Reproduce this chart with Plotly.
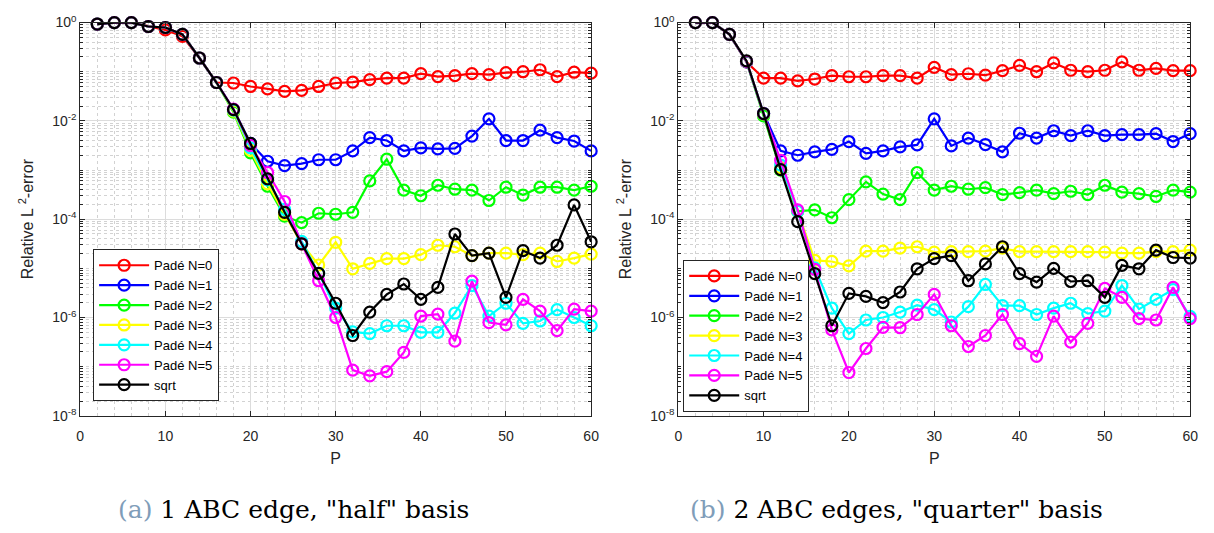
import plotly.graph_objects as go

P = list(range(2, 61, 2))

# ---------- (a) 1 ABC edge, "half" basis ----------
a_N0 = [0.933, 1.0, 1.0, 0.832, 0.708, 0.525, 0.19, 0.0603, 0.0589, 0.0501, 0.0447, 0.0398, 0.0417, 0.0501, 0.0589,
        0.0617, 0.0692, 0.0741, 0.0741, 0.0912, 0.0794, 0.0832, 0.0912, 0.0871, 0.0955, 0.1, 0.1096, 0.0794, 0.0977, 0.0933]
a_N1 = [0.933, 1.0, 1.0, 0.832, 0.794, 0.575, 0.19, 0.0603, 0.017, 3.47e-3, 1.51e-3, 1.23e-3, 1.35e-3, 1.62e-3, 1.62e-3,
        2.45e-3, 4.57e-3, 3.98e-3, 2.45e-3, 2.82e-3, 2.69e-3, 2.75e-3, 4.9e-3, 1.1e-2, 3.98e-3, 3.98e-3, 6.46e-3, 4.57e-3, 3.89e-3, 2.45e-3]
a_N2 = [0.933, 1.0, 1.0, 0.832, 0.794, 0.575, 0.19, 0.0603, 1.51e-2, 2.24e-3, 4.68e-4, 1.15e-4, 8.5e-5, 1.32e-4, 1.26e-4,
        1.38e-4, 6.0e-4, 1.66e-3, 3.9e-4, 3.0e-4, 4.9e-4, 4.07e-4, 3.9e-4, 2.4e-4, 4.47e-4, 3.09e-4, 4.47e-4, 4.47e-4, 3.9e-4, 4.68e-4]
a_N3 = [0.933, 1.0, 1.0, 0.832, 0.794, 0.575, 0.19, 0.0603, 1.58e-2, 2.51e-3, 5.25e-4, 1.26e-4, 3.16e-5, 1.17e-5, 3.39e-5,
        9.8e-6, 1.26e-5, 1.58e-5, 1.58e-5, 1.9e-5, 2.95e-5, 2.75e-5, 1.82e-5, 2.04e-5, 2.04e-5, 1.9e-5, 2.04e-5, 1.38e-5, 1.62e-5, 1.95e-5]
a_N4 = [0.933, 1.0, 1.0, 0.832, 0.794, 0.575, 0.19, 0.0603, 1.66e-2, 2.82e-3, 6.3e-4, 1.58e-4, 3.55e-5, 7.9e-6, 1.55e-6,
        5.1e-7, 4.7e-7, 6.8e-7, 6.8e-7, 5.0e-7, 5.0e-7, 1.23e-6, 4.47e-6, 1.07e-6, 1.95e-6, 7.6e-7, 8.5e-7, 1.45e-6, 1.0e-6, 6.8e-7]
a_N5 = [0.933, 1.0, 1.0, 0.832, 0.794, 0.575, 0.19, 0.0603, 1.74e-2, 3.16e-3, 8.9e-4, 2.29e-4, 3.16e-5, 5.6e-6, 1.0e-6,
        8.5e-8, 6.5e-8, 7.9e-8, 1.95e-7, 1.07e-6, 1.17e-6, 3.3e-7, 5.5e-6, 7.9e-7, 7.1e-7, 2.34e-6, 1.35e-6, 5.4e-7, 1.48e-6, 1.35e-6]
a_sqrt = [0.933, 1.0, 1.0, 0.832, 0.794, 0.575, 0.19, 0.0603, 0.017, 3.47e-3, 6.6e-4, 1.38e-4, 3.16e-5, 7.9e-6, 1.95e-6,
          4.3e-7, 1.29e-6, 2.95e-6, 4.8e-6, 2.34e-6, 4.1e-6, 5.0e-5, 1.82e-5, 2.04e-5, 2.57e-6, 2.29e-5, 1.62e-5, 2.95e-5, 1.95e-4, 3.47e-5]

# ---------- (b) 2 ABC edges, "quarter" basis ----------
b_N0 = [1.0, 1.0, 0.575, 0.158, 7.4e-2, 7.4e-2, 6.5e-2, 7.1e-2, 8.3e-2, 7.9e-2, 7.9e-2, 8.3e-2, 8.3e-2, 7.4e-2, 0.123,
        8.7e-2, 9.1e-2, 8.5e-2, 0.105, 0.135, 0.1, 0.151, 0.107, 0.1, 0.107, 0.158, 0.107, 0.117, 0.105, 0.105]
b_N1 = [1.0, 1.0, 0.575, 0.158, 1.41e-2, 2.45e-3, 2.0e-3, 2.34e-3, 2.63e-3, 3.8e-3, 2.19e-3, 2.45e-3, 2.95e-3, 3.24e-3, 1.1e-2,
        3.09e-3, 4.47e-3, 3.3e-3, 2.34e-3, 5.6e-3, 4.47e-3, 6.3e-3, 5.0e-3, 6.3e-3, 5.0e-3, 5.25e-3, 5.25e-3, 5.5e-3, 3.8e-3, 5.5e-3]
b_N2 = [1.0, 1.0, 0.575, 0.16, 1.26e-2, 1.0e-3, 1.45e-4, 1.55e-4, 1.07e-4, 2.5e-4, 5.75e-4, 3.24e-4, 2.5e-4, 8.9e-4, 3.9e-4,
        4.68e-4, 4.07e-4, 4.37e-4, 3.16e-4, 3.47e-4, 3.9e-4, 3.3e-4, 3.7e-4, 3.16e-4, 4.9e-4, 3.55e-4, 3.3e-4, 2.9e-4, 3.9e-4, 3.55e-4]
b_N3 = [1.0, 1.0, 0.575, 0.162, 1.38e-2, 1.12e-3, 1.45e-4, 1.45e-5, 1.38e-5, 1.12e-5, 2.24e-5, 2.24e-5, 2.57e-5, 2.75e-5, 2.14e-5,
        2.19e-5, 2.19e-5, 2.24e-5, 2.57e-5, 2.19e-5, 2.19e-5, 2.19e-5, 2.19e-5, 2.19e-5, 2.14e-5, 2.04e-5, 2.04e-5, 2.19e-5, 2.19e-5, 2.34e-5]
b_N4 = [1.0, 1.0, 0.575, 0.162, 1.4e-2, 1.26e-3, 1.45e-4, 1.02e-5, 1.55e-6, 4.7e-7, 8.9e-7, 1.0e-6, 1.29e-6, 1.78e-6, 1.45e-6,
        8.1e-7, 1.66e-6, 4.7e-6, 1.74e-6, 1.74e-6, 1.15e-6, 1.55e-6, 1.95e-6, 1.2e-6, 1.35e-6, 4.47e-6, 1.48e-6, 2.34e-6, 3.7e-6, 1.05e-6]
b_N5 = [1.0, 1.0, 0.575, 0.162, 1.4e-2, 1.58e-3, 1.55e-4, 9.5e-6, 5.6e-7, 7.6e-8, 2.34e-7, 6.3e-7, 6.2e-7, 1.15e-6, 2.95e-6,
        6.8e-7, 2.57e-7, 4.3e-7, 1.15e-6, 2.95e-7, 1.62e-7, 1.07e-6, 3.16e-7, 7.6e-7, 3.9e-6, 2.57e-6, 9.5e-7, 8.9e-7, 4.1e-6, 9.5e-7]
b_sqrt = [1.0, 1.0, 0.575, 0.166, 1.41e-2, 1.02e-3, 8.9e-5, 7.8e-6, 6.8e-7, 3.1e-6, 2.69e-6, 2.0e-6, 3.3e-6, 9.8e-6, 1.58e-5,
          1.82e-5, 5.6e-6, 1.23e-5, 2.75e-5, 7.8e-6, 5.25e-6, 1.0e-5, 5.4e-6, 5.6e-6, 2.57e-6, 1.15e-5, 9.8e-6, 2.34e-5, 1.66e-5, 1.62e-5]

names = ["Padé N=0", "Padé N=1", "Padé N=2", "Padé N=3", "Padé N=4", "Padé N=5", "sqrt"]
colors = ["#ff0000", "#0000ff", "#00ff00", "#ffff00", "#00ffff", "#ff00ff", "#000000"]
panel_a = [a_N0, a_N1, a_N2, a_N3, a_N4, a_N5, a_sqrt]
panel_b = [b_N0, b_N1, b_N2, b_N3, b_N4, b_N5, b_sqrt]

y_major = [1e-8, 1e-6, 1e-4, 1e-2, 1]
y_major_text = ["10<sup>-8</sup>", "10<sup>-6</sup>", "10<sup>-4</sup>", "10<sup>-2</sup>", "10<sup>0</sup>"]
y_minor = [k * 10.0 ** e for e in range(-8, 0) for k in range(1, 10)]
x_major = [0, 10, 20, 30, 40, 50, 60]

FONT = "Liberation Sans, Arial, sans-serif"
AX = "#262626"

fig = go.Figure()
for series, legend_name, xa, ya in ((panel_a, "legend", "x", "y"), (panel_b, "legend2", "x2", "y2")):
    for name, col, vals in zip(names, colors, series):
        fig.add_trace(go.Scatter(
            x=P, y=vals, name=name, mode="lines+markers",
            line=dict(color=col, width=2.2),
            marker=dict(symbol="circle-open", size=11, color=col, line=dict(width=2.2, color=col)),
            xaxis=xa, yaxis=ya, legend=legend_name, cliponaxis=False,
        ))

def xaxis(domain, anchor):
    return dict(domain=domain, anchor=anchor, range=[0, 60], tickvals=x_major,
                ticks="inside", ticklen=5, tickcolor=AX, showline=True, linecolor=AX, linewidth=1,
                mirror="ticks", showgrid=True, gridcolor="#dcdcdc", gridwidth=1, zeroline=False,
                ticklabelstandoff=7,
                tickfont=dict(family=FONT, size=14, color=AX),
                title=dict(text="P", font=dict(family=FONT, size=16, color=AX), standoff=10),
                minor=dict(dtick=2, showgrid=True, gridcolor="#d2d2d2", griddash="dot", gridwidth=1, ticks=""))

def yaxis(domain, anchor):
    return dict(domain=domain, anchor=anchor, type="log", range=[-8, 0],
                tickvals=y_major, ticktext=y_major_text,
                ticks="inside", ticklen=5, tickcolor=AX, showline=True, linecolor=AX, linewidth=1,
                mirror="ticks", showgrid=True, gridcolor="#dcdcdc", gridwidth=1, zeroline=False,
                tickfont=dict(family=FONT, size=14, color=AX),
                title=dict(text="Relative L <sup>2</sup>-error", font=dict(family=FONT, size=16, color=AX), standoff=14),
                minor=dict(tickvals=y_minor, showgrid=True, gridcolor="#d2d2d2", griddash="dot", gridwidth=1,
                           ticks="inside", ticklen=3, tickcolor=AX))

ydom = [1 - 420 / 533, 1 - 13 / 533]
legend_style = dict(bgcolor="white", bordercolor=AX, borderwidth=1,
                    font=dict(family=FONT, size=13, color="#000000"),
                    xanchor="left", yanchor="bottom", itemwidth=50, tracegroupgap=0)

CAP = "DejaVu Serif, Liberation Serif, serif"
fig.update_layout(
    width=1214, height=533, margin=dict(l=0, r=0, t=0, b=0),
    paper_bgcolor="white", plot_bgcolor="white",
    xaxis=xaxis([77 / 1214, 593 / 1214], "y"),
    yaxis=yaxis(ydom, "x"),
    xaxis2=xaxis([681 / 1214, 1198 / 1214], "y2"),
    yaxis2=yaxis(ydom, "x2"),
    legend=dict(x=90 / 1214, y=1 - 405 / 533, **legend_style),
    legend2=dict(x=686 / 1214, y=1 - 416 / 533, **legend_style),
    showlegend=True,
    annotations=[
        dict(text='<span style="color:#7f9db9">(a)</span> 1 ABC edge, "half" basis', x=292 / 1214, y=1 - 517 / 533,
             xref="paper", yref="paper", showarrow=False, xanchor="center", yanchor="middle",
             font=dict(family=CAP, size=25, color="#000000")),
        dict(text='<span style="color:#7f9db9">(b)</span> 2 ABC edges, "quarter" basis', x=901 / 1214, y=1 - 517 / 533,
             xref="paper", yref="paper", showarrow=False, xanchor="center", yanchor="middle",
             font=dict(family=CAP, size=25, color="#000000")),
    ],
)

fig.write_html("out.html")
